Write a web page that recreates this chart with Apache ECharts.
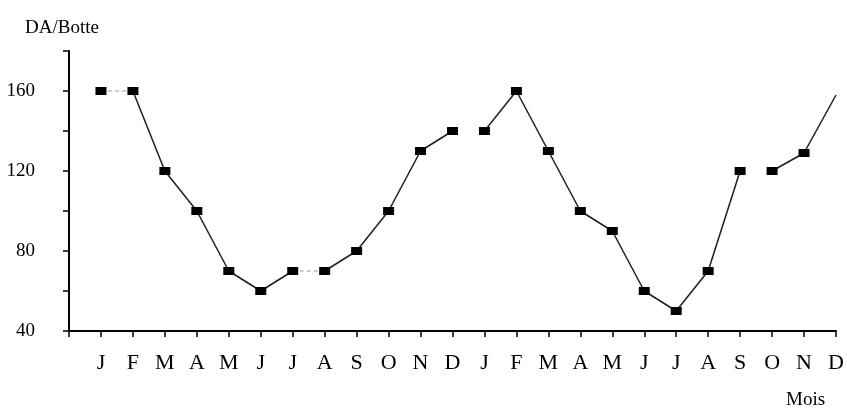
<!DOCTYPE html>
<html>
<head>
<meta charset="utf-8">
<script src="https://cdn.jsdelivr.net/npm/echarts@6/dist/echarts.min.js"></script>
<style>
  html, body { margin: 0; padding: 0; background: #ffffff; }
  #chart { width: 847px; height: 410px; }
</style>
</head>
<body>
<div id="chart"></div>
<script>
// Month letters for two consecutive years (x-axis tick labels)
const months = ['J','F','M','A','M','J','J','A','S','O','N','D',
                'J','F','M','A','M','J','J','A','S','O','N','D'];
// Price in DA per box
const priceDA = [160,160,120,100,70,60,70,70,80,100,130,140,
                 140,160,130,100,90,60,50,70,120,120,129,158];
// How consecutive months are joined in the figure: solid, dashed or not at all
const joins = ['dash','solid','solid','solid','solid','solid','dash','solid','solid','solid','solid','none',
               'solid','solid','solid','solid','solid','solid','solid','solid','none','solid','solid'];
// Y tick labels that are printed
const yTickLabels = [40, 80, 120, 160];
const yTitle = 'DA/Botte';
const xTitle = 'Mois';

const serif = '"Liberation Serif", "DejaVu Serif", serif';
const chart = echarts.init(document.getElementById('chart'), null, { renderer: 'canvas' });

const series = [];
joins.forEach((kind, i) => {
  if (kind === 'none') return;
  series.push({
    type: 'line',
    data: [[i + 1, priceDA[i]], [i + 2, priceDA[i + 1]]],
    showSymbol: false,
    silent: true,
    z: 2,
    lineStyle: kind === 'solid'
      ? { color: '#1e1e1e', width: 1.5, type: 'solid' }
      : { color: '#9a9a9a', width: 1, type: [4, 3] }
  });
});
series.push({
  type: 'scatter',
  z: 5,
  data: priceDA.map((v, i) => ({
    value: [i + 1, v],
    symbol: i === priceDA.length - 1 ? 'none' : 'rect'
  })),
  symbolSize: [11, 8],
  itemStyle: { color: '#000000', opacity: 1 }
});

chart.setOption({
  animation: false,
  backgroundColor: '#ffffff',
  title: [
    { text: yTitle, left: 20, top: 14,
      textStyle: { fontFamily: serif, fontSize: 19, fontWeight: 'normal', color: '#000' } },
    { text: xTitle, left: 781, top: 386,
      textStyle: { fontFamily: serif, fontSize: 19, fontWeight: 'normal', color: '#000' } }
  ],
  grid: { left: 69, right: 11, top: 51, bottom: 79, containLabel: false },
  xAxis: {
    type: 'value',
    min: 0, max: months.length, interval: 1,
    splitLine: { show: false },
    axisLine: { show: true, lineStyle: { color: '#000', width: 2 } },
    axisTick: { show: true, length: 6, lineStyle: { color: '#000', width: 1.5 } },
    axisLabel: {
      formatter: v => months[v - 1] || '',
      fontFamily: serif, fontSize: 22, color: '#000', margin: 21
    }
  },
  yAxis: {
    type: 'value',
    min: 40, max: 180, interval: 20,
    splitLine: { show: false },
    axisLine: { show: true, lineStyle: { color: '#000', width: 2 } },
    axisTick: { show: true, length: 6, lineStyle: { color: '#000', width: 1.5 } },
    axisLabel: {
      formatter: v => yTickLabels.includes(v) ? String(v) : '',
      fontFamily: serif, fontSize: 19, color: '#000', margin: 34
    }
  },
  series: series
});
</script>
</body>
</html>
